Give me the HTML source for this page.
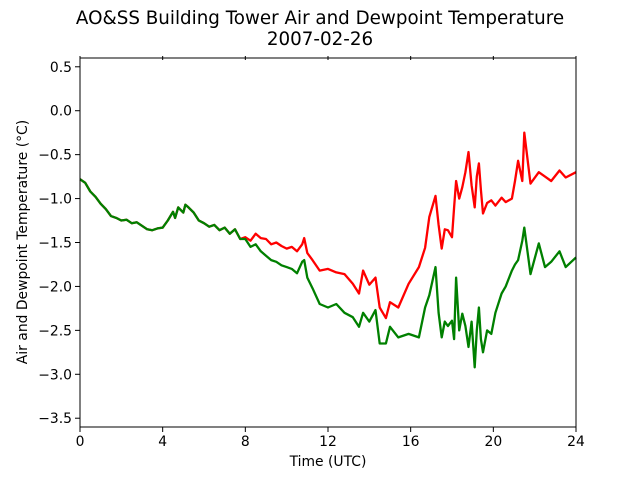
<!DOCTYPE html>
<html><head><meta charset="utf-8"><style>
body{margin:0;background:#fff;}
svg{display:block;font-family:"DejaVu Sans","Liberation Sans",sans-serif;}
</style></head><body>
<svg id="chart" width="640" height="480" viewBox="0 0 640 480" xmlns="http://www.w3.org/2000/svg">
<rect width="640" height="480" fill="#fff"/>
<text x="320" y="24" font-size="18.3" text-anchor="middle">AO&amp;SS Building Tower Air and Dewpoint Temperature</text>
<text x="320" y="45" font-size="18.3" text-anchor="middle">2007-02-26</text>
<g id="plot"></g>
<g id="axes"></g>
<text x="328" y="466" font-size="13.9" text-anchor="middle">Time (UTC)</text>
<text transform="translate(27,242) rotate(-90)" font-size="13.9" text-anchor="middle">Air and Dewpoint Temperature (°C)</text>
</svg>
<script>
const hours=[0,0.25,0.5,0.75,1,1.25,1.5,1.75,2,2.25,2.5,2.75,3,3.25,3.5,3.75,4,4.25,4.5,4.6,4.75,5,5.1,5.25,5.5,5.75,6,6.25,6.5,6.75,7,7.25,7.5,7.75,8,8.25,8.5,8.75,9,9.25,9.5,9.75,10,10.25,10.5,10.75,10.85,11,11.25,11.6,12,12.4,12.8,13.2,13.5,13.7,14,14.3,14.5,14.8,15,15.4,15.9,16.4,16.7,16.9,17.2,17.35,17.5,17.65,17.8,18,18.1,18.2,18.35,18.5,18.65,18.8,18.95,19.1,19.2,19.3,19.4,19.5,19.7,19.9,20.1,20.4,20.6,20.9,21.05,21.2,21.4,21.5,21.8,22.2,22.5,22.8,23.2,23.5,24];
const airTemp=[-0.78,-0.82,-0.92,-0.98,-1.06,-1.12,-1.2,-1.22,-1.25,-1.24,-1.28,-1.27,-1.31,-1.35,-1.36,-1.34,-1.33,-1.25,-1.15,-1.22,-1.1,-1.16,-1.07,-1.1,-1.16,-1.25,-1.28,-1.32,-1.3,-1.36,-1.33,-1.4,-1.35,-1.46,-1.44,-1.48,-1.4,-1.45,-1.46,-1.52,-1.5,-1.54,-1.57,-1.55,-1.6,-1.52,-1.45,-1.62,-1.7,-1.82,-1.8,-1.84,-1.86,-1.97,-2.08,-1.82,-1.98,-1.9,-2.24,-2.36,-2.18,-2.24,-1.97,-1.78,-1.56,-1.21,-0.97,-1.3,-1.57,-1.35,-1.36,-1.44,-1.1,-0.8,-1.0,-0.87,-0.7,-0.47,-0.85,-1.1,-0.75,-0.6,-0.9,-1.17,-1.05,-1.02,-1.08,-0.99,-1.04,-1.0,-0.8,-0.57,-0.8,-0.25,-0.83,-0.7,-0.75,-0.8,-0.68,-0.76,-0.7];
const dewTemp=[-0.78,-0.82,-0.92,-0.98,-1.06,-1.12,-1.2,-1.22,-1.25,-1.24,-1.28,-1.27,-1.31,-1.35,-1.36,-1.34,-1.33,-1.25,-1.15,-1.22,-1.1,-1.16,-1.07,-1.1,-1.16,-1.25,-1.28,-1.32,-1.3,-1.36,-1.33,-1.4,-1.35,-1.46,-1.46,-1.55,-1.52,-1.6,-1.65,-1.7,-1.72,-1.76,-1.78,-1.8,-1.85,-1.72,-1.7,-1.9,-2.02,-2.2,-2.24,-2.2,-2.3,-2.35,-2.46,-2.3,-2.4,-2.27,-2.65,-2.65,-2.46,-2.58,-2.54,-2.58,-2.24,-2.1,-1.78,-2.3,-2.58,-2.4,-2.45,-2.39,-2.6,-1.9,-2.5,-2.31,-2.45,-2.69,-2.4,-2.92,-2.5,-2.24,-2.6,-2.75,-2.5,-2.54,-2.3,-2.08,-2.0,-1.82,-1.75,-1.7,-1.48,-1.33,-1.86,-1.51,-1.78,-1.72,-1.6,-1.78,-1.67];
const xTicks=[0,4,8,12,16,20,24];
const yTicks=[-3.5,-3.0,-2.5,-2.0,-1.5,-1.0,-0.5,0.0,0.5];
const X0=80,X1=576,Y0=58,Y1=427,XMIN=0,XMAX=24,YMIN=-3.6,YMAX=0.6;
const NS="http://www.w3.org/2000/svg";
function sx(v){return X0+(v-XMIN)/(XMAX-XMIN)*(X1-X0);}
function sy(v){return Y1-(v-YMIN)/(YMAX-YMIN)*(Y1-Y0);}
const plot=document.getElementById('plot'),axes=document.getElementById('axes');
function line(vals,color,name){
  const p=document.createElementNS(NS,'polyline');
  
  
  p.setAttribute('points',vals.map((v,i)=>sx(hours[i]).toFixed(1)+','+sy(v).toFixed(1)).join(' '));
  p.setAttribute('fill','none');p.setAttribute('stroke',color);p.setAttribute('stroke-width','2.3');p.setAttribute('stroke-linejoin','round');
  plot.appendChild(p);
}
line(airTemp,'#ff0000','air-temperature-line');
line(dewTemp,'#008000','dewpoint-temperature-line');
const frame=document.createElementNS(NS,'rect');


frame.setAttribute('x',X0);frame.setAttribute('y',Y0);frame.setAttribute('width',X1-X0);frame.setAttribute('height',Y1-Y0);
frame.setAttribute('fill','none');frame.setAttribute('stroke','#000');frame.setAttribute('stroke-width','1');
axes.appendChild(frame);
xTicks.forEach(t=>{
  const x=sx(t);
  const l=document.createElementNS(NS,'line');
  
  
  l.setAttribute('x1',x);l.setAttribute('x2',x);l.setAttribute('y1',Y1);l.setAttribute('y2',Y1+5);l.setAttribute('stroke','#000');
  axes.appendChild(l);
  const lt=document.createElementNS(NS,'line');
  
  
  lt.setAttribute('x1',x);lt.setAttribute('x2',x);lt.setAttribute('y1',Y0-2);lt.setAttribute('y2',Y0+2);lt.setAttribute('stroke','#000');
  axes.appendChild(lt);
  const tx=document.createElementNS(NS,'text');
  
  
  tx.setAttribute('x',x);tx.setAttribute('y',Y1+19);tx.setAttribute('font-size','13.9');tx.setAttribute('text-anchor','middle');
  tx.textContent=t;axes.appendChild(tx);
});
yTicks.forEach(t=>{
  const y=sy(t);
  const l=document.createElementNS(NS,'line');
  
  
  l.setAttribute('x1',X0-5);l.setAttribute('x2',X0);l.setAttribute('y1',y);l.setAttribute('y2',y);l.setAttribute('stroke','#000');
  axes.appendChild(l);
  const tx=document.createElementNS(NS,'text');
  
  
  tx.setAttribute('x',X0-8);tx.setAttribute('y',y+5);tx.setAttribute('font-size','13.9');tx.setAttribute('text-anchor','end');
  tx.textContent=(t<0?'\u2212':'')+Math.abs(t).toFixed(1);axes.appendChild(tx);
});
</script>
</body></html>
